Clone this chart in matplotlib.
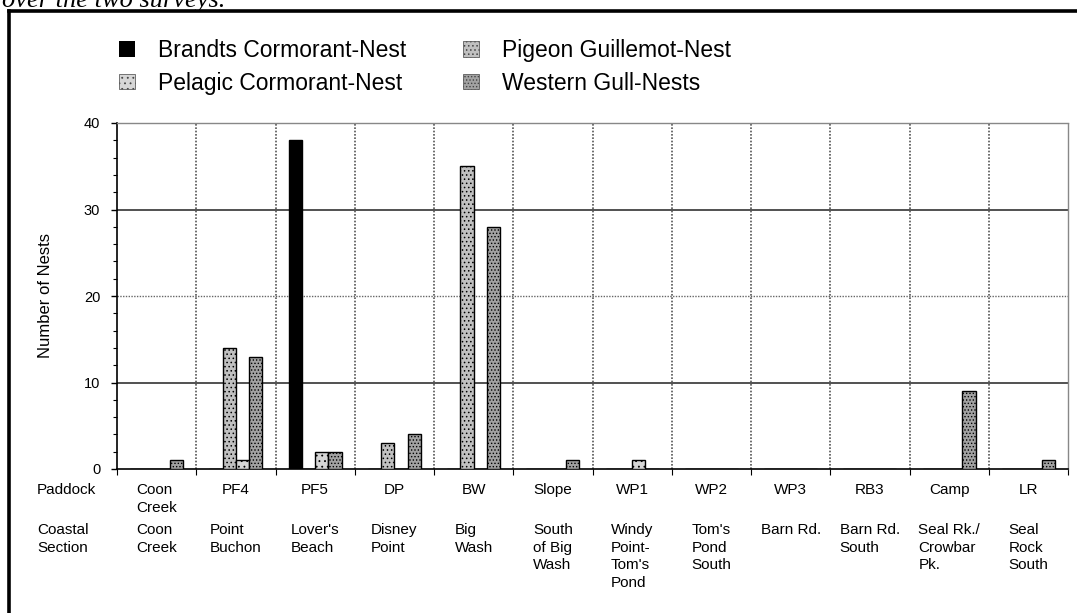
import matplotlib
matplotlib.use("Agg")
import matplotlib.pyplot as plt
from matplotlib.patches import Patch
from matplotlib.lines import Line2D
from matplotlib.transforms import blended_transform_factory

plt.rcParams['font.family'] = ['Liberation Sans', 'DejaVu Sans']
plt.rcParams['hatch.linewidth'] = 0.6

# nest counts per paddock
paddock = ["Coon\nCreek", "PF4", "PF5", "DP", "BW", "Slope", "WP1", "WP2",
           "WP3", "RB3", "Camp", "LR"]
section = ["Coon\nCreek", "Point\nBuchon", "Lover's\nBeach", "Disney\nPoint",
           "Big\nWash", "South\nof Big\nWash", "Windy\nPoint-\nTom's\nPond",
           "Tom's\nPond\nSouth", "Barn Rd.", "Barn Rd.\nSouth",
           "Seal Rk./\nCrowbar\nPk.", "Seal\nRock\nSouth"]

brandts = [0, 0, 38, 0, 0, 0, 0, 0, 0, 0, 0, 0]
pigeon = [0, 14, 0, 3, 35, 0, 0, 0, 0, 0, 0, 0]
pelagic = [0, 1, 2, 0, 0, 0, 1, 0, 0, 0, 0, 0]
western = [1, 13, 2, 4, 28, 1, 0, 0, 0, 0, 9, 1]

series_names = ["Brandts Cormorant-Nest", "Pigeon Guillemot-Nest",
                "Pelagic Cormorant-Nest", "Western Gull-Nests"]
yticks = [0, 10, 20, 30, 40]

W, H = 1077, 613
fig = plt.figure(figsize=(W / 100, H / 100), dpi=100)
ax = fig.add_axes([117 / W, 1 - 469 / H, 951 / W, 346 / H])

styles = [
    dict(color='black', hatch=None),
    dict(color='#c0c0c0', hatch='....'),
    dict(color='#d6d6d6', hatch='...'),
    dict(color='#a2a2a2', hatch='.....'),
]

n = len(paddock)
xs = list(range(n))
bw = 1 / 6
for k, vals in enumerate([brandts, pigeon, pelagic, western]):
    st = styles[k]
    ax.bar([x + (k - 1.5) * bw for x in xs], vals, width=bw,
           color=st['color'], edgecolor='black', hatch=st['hatch'],
           linewidth=1.0, zorder=3)

ax.set_xlim(-0.5, n - 0.5)
ax.set_ylim(0, 40)

# horizontal grid, 10/30 solid and 20 dotted
for v in yticks[1:-1]:
    if v == 20:
        ax.axhline(v, color='#666666', lw=1.0, ls=(0, (1, 1)), zorder=1)
    else:
        ax.axhline(v, color='#222222', lw=1.1, zorder=1)

# category separators
for i in range(n - 1):
    ax.axvline(i + 0.5, color='#555555', lw=1.2, ls=(0, (1, 1)), zorder=1)

for s in ['top', 'right']:
    ax.spines[s].set_color('#888888')
    ax.spines[s].set_linestyle((0, (1, 1)))
    ax.spines[s].set_linewidth(1.0)
ax.spines['left'].set_linewidth(1.2)
ax.spines['bottom'].set_linewidth(1.2)

ax.set_yticks(yticks)
ax.set_yticks(range(0, 41, 2), minor=True)
ax.tick_params(axis='y', which='major', length=4, width=1, pad=8, labelsize=10.5)
ax.tick_params(axis='y', which='minor', length=3, width=0.8)
ax.set_xticks([i + 0.5 for i in range(-1, n)])
ax.set_xticklabels([])
ax.tick_params(axis='x', length=4, width=0.8)

ax.set_ylabel("Number of Nests", fontsize=12)
ax.yaxis.set_label_coords(-64 / 951, 0.5)

# table of paddock / coastal section names under the axis
tr = blended_transform_factory(ax.transData, fig.transFigure)
row1, row2 = 1 - 483 / H, 1 - 523 / H
for i in range(n):
    ax.text(i, row1, paddock[i], transform=tr, ha='center', va='top',
            multialignment='left', fontsize=11, linespacing=1.33)
    ax.text(i, row2, section[i], transform=tr, ha='center', va='top',
            multialignment='left', fontsize=11, linespacing=1.33)
fig.text(37 / W, row1, "Paddock", ha='left', va='top', fontsize=11)
fig.text(37 / W, row2, "Coastal\nSection", ha='left', va='top',
         fontsize=11, linespacing=1.33)

# legend, laid out row by row
handles = [Patch(facecolor=st['color'],
                 edgecolor='none' if st['hatch'] is None else '#444444',
                 hatch=st['hatch'], linewidth=0.5) for st in styles]
order = [0, 2, 1, 3]
fig.legend([handles[i] for i in order], [series_names[i] for i in order],
           ncol=2, loc='upper left', bbox_to_anchor=(119 / W, 1 - 39 / H),
           frameon=False, fontsize=16.5, handlelength=0.68, handleheight=0.68,
           handletextpad=1.0, columnspacing=2.5, labelspacing=0.42,
           borderpad=0, borderaxespad=0)

# surrounding frame and the caption line above it
fig.add_artist(Line2D([9 / W, 1], [1 - 11 / H, 1 - 11 / H], color='black', lw=2.6))
fig.add_artist(Line2D([9 / W, 9 / W], [0, 1 - 11 / H], color='black', lw=2.6))
fig.text(2 / W, 1 - 7 / H, "over the two surveys.",
         family=['Liberation Serif', 'DejaVu Serif'],
         style='italic', fontsize=19, ha='left', va='baseline')

fig.savefig("out.png", dpi=100)
